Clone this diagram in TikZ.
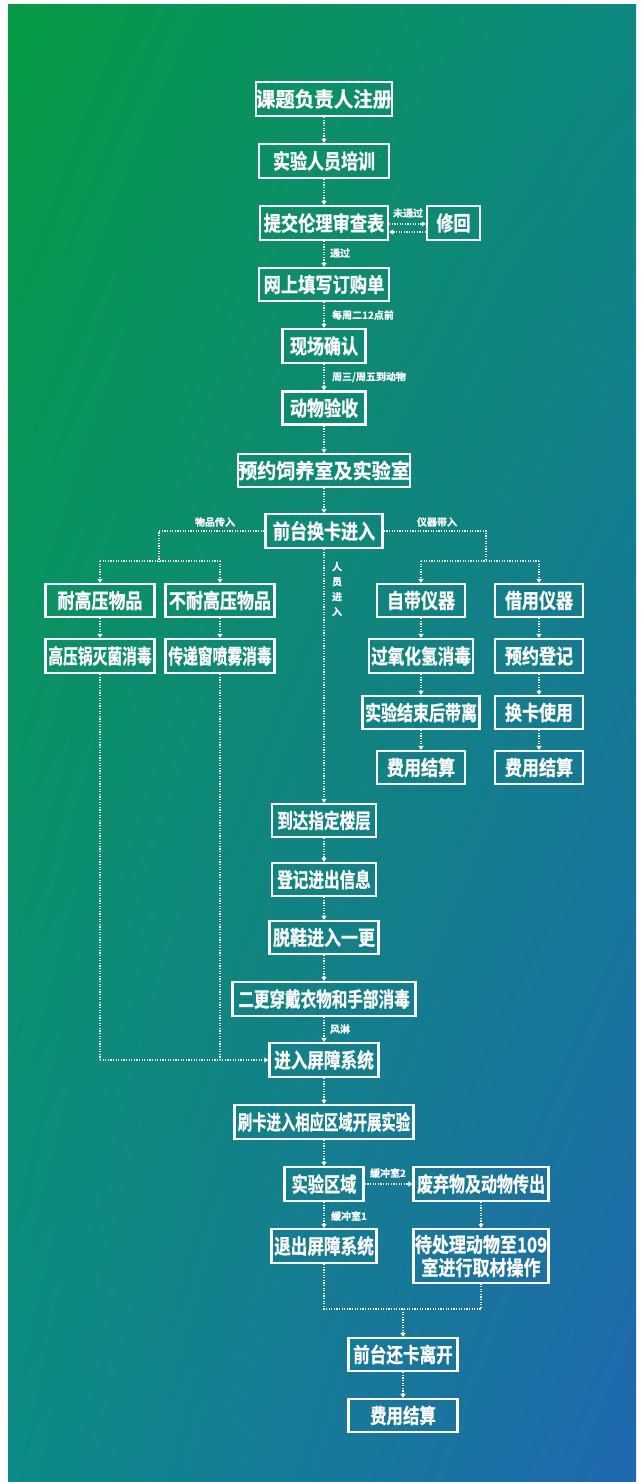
\documentclass[tikz,border=0pt]{standalone}
\usepackage{fontspec}
\usepackage{graphicx}
\newfontfamily\cjk{Noto Sans CJK SC Bold}[FakeBold=1]
\usetikzlibrary{arrows.meta,calc,shadings}
\definecolor{cUL}{RGB}{6,154,68}
\definecolor{cUR}{RGB}{12,136,128}
\definecolor{cLL}{RGB}{12,138,134}
\definecolor{cLR}{RGB}{32,104,176}
\newcommand\T[2]{\scalebox{#1}[1]{#2}}
\tikzset{
  box/.style={draw=white, line width=2.4pt, text=white, inner sep=0pt,
    font=\cjk\fontsize{20.5}{23}\selectfont, minimum height=33pt, align=center},
  conn/.style={draw=white, line width=1.3pt, dash pattern=on 1.2pt off 1.4pt,
    -{Triangle[length=4pt,width=5pt]}},
  plain/.style={draw=white, line width=1.3pt, dash pattern=on 1.2pt off 1.4pt},
  lab/.style={text=white, font=\cjk\fontsize{10}{12}\selectfont, inner sep=0pt},
}
\begin{document}
\begin{tikzpicture}[x=1pt,y=-1pt]
\useasboundingbox (0,0) rectangle (644,1482);
\fill[white] (0,0) rectangle (644,1482);
\shade[upper left=cUL, upper right=cUR, lower left=cLL, lower right=cLR] (8,5) rectangle (636,1482);

% main column
\node[box, minimum width=129pt, minimum height=34pt] (n1) at (324,99) {\T{0.95}{课题负责人注册}};
\node[box, minimum width=130pt, minimum height=34pt] (n2) at (324,161) {\T{0.83}{实验人员培训}};
\node[box, minimum width=128pt, minimum height=34pt] (n3) at (324,223) {\T{0.84}{提交伦理审查表}};
\node[box, minimum width=53pt, minimum height=34pt] (n3b) at (453.5,223) {\T{0.83}{修回}};
\node[box, minimum width=130pt] (n4) at (324,284.5) {\T{0.84}{网上填写订购单}};
\node[box, minimum width=83pt, minimum height=34pt] (n5) at (324,346) {\T{0.83}{现场确认}};
\node[box, minimum width=83pt] (n6) at (324,408) {\T{0.83}{动物验收}};
\node[box, minimum width=165pt] (n7) at (324,470.5) {\T{0.93}{预约饲养室及实验室}};
\node[box, minimum width=117pt, minimum height=34pt] (n8) at (324,531) {\T{0.83}{前台换卡进入}};

% left branch
\node[box, minimum width=109pt] (a1) at (100,600.5) {\T{0.83}{耐高压物品}};
\node[box, minimum width=109pt] (a2) at (220,600.5) {\T{0.83}{不耐高压物品}};
\node[box, minimum width=109pt, minimum height=34pt] (b1) at (100,656) {\T{0.72}{高压锅灭菌消毒}};
\node[box, minimum width=109pt, minimum height=34pt] (b2) at (220,656) {\T{0.72}{传递窗喷雾消毒}};

% right branch
\node[box, minimum width=88pt] (c1) at (421,600.5) {\T{0.83}{自带仪器}};
\node[box, minimum width=88pt] (c2) at (539,600.5) {\T{0.83}{借用仪器}};
\node[box, minimum width=104pt, minimum height=34pt] (d1) at (421,656) {\T{0.81}{过氧化氢消毒}};
\node[box, minimum width=88pt, minimum height=34pt] (d2) at (539,656) {\T{0.83}{预约登记}};
\node[box, minimum width=117pt] (e1) at (421,712.5) {\T{0.78}{实验结束后带离}};
\node[box, minimum width=88pt] (e2) at (539,712.5) {\T{0.83}{换卡使用}};
\node[box, minimum width=88pt] (f1) at (421,767.5) {\T{0.83}{费用结算}};
\node[box, minimum width=88pt] (f2) at (539,767.5) {\T{0.83}{费用结算}};

% personnel path
\node[box, minimum width=104pt] (g1) at (324,820.5) {\T{0.76}{到达指定楼层}};
\node[box, minimum width=104pt] (g2) at (324,879.5) {\T{0.76}{登记进出信息}};
\node[box, minimum width=109pt] (g3) at (324,937.5) {\T{0.83}{脱鞋进入一更}};
\node[box, minimum width=183pt, minimum height=34pt] (g4) at (324,999) {\T{0.76}{二更穿戴衣物和手部消毒}};
\node[box, minimum width=109pt, minimum height=34pt] (g5) at (324,1060) {\T{0.81}{进入屏障系统}};
\node[box, minimum width=179pt, minimum height=34pt] (g6) at (324,1122) {\T{0.70}{刷卡进入相应区域开展实验}};
\node[box, minimum width=79pt, minimum height=34pt] (g7) at (324,1184) {\T{0.79}{实验区域}};
\node[box, minimum width=135pt, minimum height=34pt] (h1) at (481,1184) {\T{0.78}{废弃物及动物传出}};
\node[box, minimum width=105pt, minimum height=34pt] (g8) at (324,1246) {\T{0.81}{退出屏障系统}};
\node[box, minimum width=135pt, minimum height=54pt] (h2) at (481,1256) {\T{0.83}{待处理动物至109}\\\T{0.83}{室进行取材操作}};
\node[box, minimum width=109pt] (k1) at (403,1354.5) {\T{0.81}{前台还卡离开}};
\node[box, minimum width=109pt] (k2) at (403,1415.5) {\T{0.80}{费用结算}};

% top connectors
\draw[conn] (n1) -- (n2);
\draw[conn] (n2) -- (n3);
\draw[conn] ($(n3.east)+(0,1)$) -- ($(n3b.west)+(0,1)$);
\draw[conn] ($(n3b.west)+(0,9)$) -- ($(n3.east)+(0,9)$);
\node[lab] (l1) at (408,213) {未通过};
\draw[conn] (n3) -- (n4);
\node[lab] (l2) at (340,253) {通过};
\draw[conn] (n4) -- (n5);
\node[lab] (l3) at (363,315) {每周二12点前};
\draw[conn] (n5) -- (n6);
\node[lab] (l4) at (369,377) {周三/周五到动物};
\draw[conn] (n6) -- (n7);
\draw[conn] (n7) -- (n8);

% branches from front desk
\coordinate (Lt) at (159,531);
\coordinate (Lj) at (159,561);
\coordinate (La) at (100,561);
\coordinate (Lb) at (220,561);
\draw[plain] (n8.west) -- (Lt) -- (Lj);
\draw[plain] (La) -- (Lb);
\draw[conn] (La) -- (a1);
\draw[conn] (Lb) -- (a2);
\node[lab] (l5) at (215,522) {物品传入};

\coordinate (Rt) at (486,531);
\coordinate (Rj) at (486,561);
\coordinate (Rc) at (421,561);
\coordinate (Rd) at (539,561);
\draw[plain] (n8.east) -- (Rt) -- (Rj);
\draw[plain] (Rc) -- (Rd);
\draw[conn] (Rc) -- (c1);
\draw[conn] (Rd) -- (c2);
\node[lab] (l6) at (437,522) {仪器带入};

\draw[conn] (a1) -- (b1);
\draw[conn] (a2) -- (b2);
\draw[conn] (c1) -- (d1);
\draw[conn] (d1) -- (e1);
\draw[conn] (e1) -- (f1);
\draw[conn] (c2) -- (d2);
\draw[conn] (d2) -- (e2);
\draw[conn] (e2) -- (f2);

% items into barrier
\coordinate (Ba) at (100,1060);
\coordinate (Bb) at (220,1060);
\draw[plain] (b1) -- (Ba);
\draw[plain] (b2) -- (Bb);
\draw[conn] (Ba) -- (g5.west);

% personnel
\draw[conn] (n8) -- (g1);
\node[lab, align=center, font=\cjk\fontsize{10}{15}\selectfont] (l7) at (337,589) {人\\员\\进\\入};
\draw[conn] (g1) -- (g2);
\draw[conn] (g2) -- (g3);
\draw[conn] (g3) -- (g4);
\draw[conn] (g4) -- (g5);
\node[lab] (l8) at (340,1029) {风淋};
\draw[conn] (g5) -- (g6);
\draw[conn] (g6) -- (g7);
\draw[conn] (g7) -- (h1);
\node[lab] (l9) at (388,1173) {缓冲室2};
\draw[conn] (g7) -- (g8);
\node[lab] (l10) at (349,1216) {缓冲室1};
\draw[conn] (h1) -- (h2);

% exit
\coordinate (Ja) at (324,1309);
\coordinate (Jb) at (481,1309);
\coordinate (Jc) at (403,1309);
\draw[plain] (g8) -- (Ja) -- (Jb) -- (h2);
\draw[conn] (Jc) -- (k1);
\draw[conn] (k1) -- (k2);
\end{tikzpicture}
\end{document}
